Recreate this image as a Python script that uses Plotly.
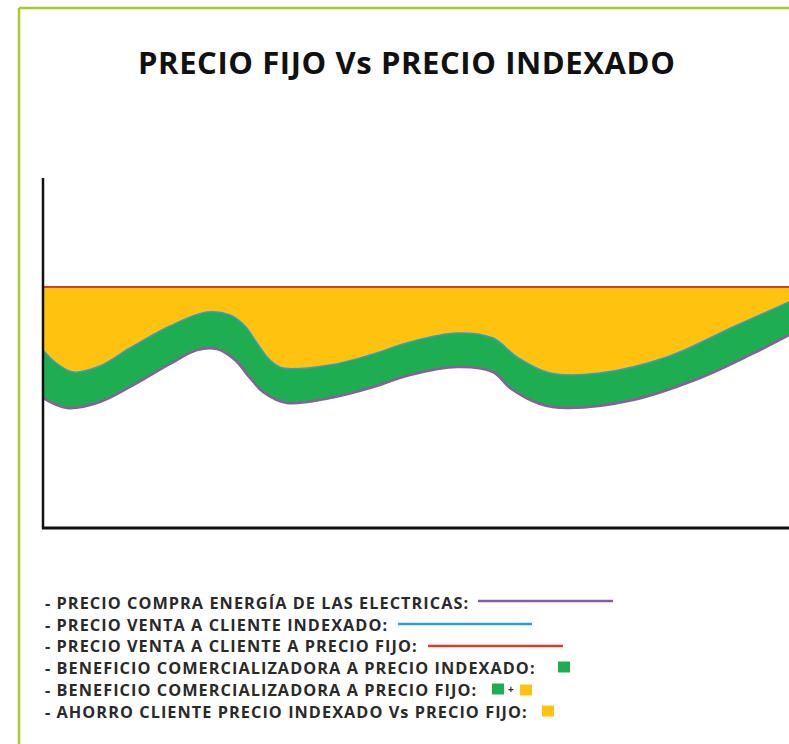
import plotly.graph_objects as go

# ---- data (time index, price level) ----
x_vals = [0, 12, 30, 57, 87, 127, 164, 187, 202, 214, 227, 240, 287, 327, 367, 414, 450, 474, 507, 557, 624, 690, 746]
x_low = [0, 24, 57, 87, 127, 154, 174, 192, 207, 220, 244, 287, 327, 367, 414, 450, 467, 497, 524, 590, 657, 707, 746]

precio_indexado = [178, 166, 156, 162, 180, 202, 216, 213, 202, 185, 168, 160, 163, 173, 186, 195, 190, 171, 155, 155, 171, 201, 226]
precio_compra = [130, 120, 126, 141, 164, 178, 179, 168, 150, 136, 125, 130, 140, 153, 161, 156, 140, 124, 120, 128, 150, 173, 193]
precio_fijo = 241

y_max = 350
x_max = 746

legend_labels = [
    "- PRECIO COMPRA ENERGÍA DE LAS ELECTRICAS:",
    "- PRECIO VENTA A CLIENTE INDEXADO:",
    "- PRECIO VENTA A CLIENTE A PRECIO FIJO:",
    "- BENEFICIO COMERCIALIZADORA A PRECIO INDEXADO:",
    "- BENEFICIO COMERCIALIZADORA A PRECIO FIJO:",
    "- AHORRO CLIENTE PRECIO INDEXADO Vs PRECIO FIJO:",
]
title_text = "PRECIO FIJO Vs PRECIO INDEXADO"

C_YELLOW = "#FFC30F"
C_GREEN = "#1FAD52"
C_PURPLE = "#8A5E9E"
C_BLUE = "#2F9FCB"
C_RED = "#D83C2C"
C_FRAME = "#A4CC2A"

fig = go.Figure()

fig.add_trace(go.Scatter(x=x_low, y=precio_compra, mode="lines",
                         line=dict(color=C_PURPLE, width=2.5, shape="spline", smoothing=1.0),
                         showlegend=False, hoverinfo="skip"))
fig.add_trace(go.Scatter(x=x_vals, y=precio_indexado, mode="lines",
                         line=dict(color=C_BLUE, width=1.5, shape="spline", smoothing=1.0),
                         fill="tonexty", fillcolor=C_GREEN, showlegend=False, hoverinfo="skip"))
fig.add_trace(go.Scatter(x=[0, x_max], y=[precio_fijo, precio_fijo], mode="lines",
                         line=dict(color=C_RED, width=2),
                         fill="tonexty", fillcolor=C_YELLOW, showlegend=False, hoverinfo="skip"))

W, H = 789, 744
L, R, T, B = 43, 0, 178, 744 - 528
pw, ph = W - L - R, H - T - B


def px(xp):
    return (xp - L) / pw


def py(yp):
    return (H - B - yp) / ph


FONT = "Open Sans"
ann = []
ann.append(dict(text='<b><span style="letter-spacing:0.6px">' + title_text + '</span></b>',
                x=px(406), y=py(62), xref="paper", yref="paper",
                showarrow=False, xanchor="center", yanchor="middle",
                font=dict(family=FONT, size=31, color="#111111")))

rows_y = [603, 624.7, 646.4, 668, 689.8, 711.5]
for lab, yy in zip(legend_labels, rows_y):
    ann.append(dict(text='<b><span style="letter-spacing:1.05px">' + lab + '</span></b>',
                    x=px(43), y=py(yy), xref="paper", yref="paper",
                    showarrow=False, xanchor="left", yanchor="middle",
                    font=dict(family=FONT, size=16.3, color="#2a2a2a")))

shapes = []
# frame
shapes.append(dict(type="line", xref="paper", yref="paper", x0=px(19), x1=px(800), y0=py(8), y1=py(8),
                   line=dict(color=C_FRAME, width=2.5)))
shapes.append(dict(type="line", xref="paper", yref="paper", x0=px(19), x1=px(19), y0=py(8), y1=py(760),
                   line=dict(color=C_FRAME, width=2.5)))
# axes
shapes.append(dict(type="line", xref="paper", yref="paper", x0=px(43), x1=px(43), y0=py(178), y1=py(529),
                   line=dict(color="#111111", width=2.5)))
shapes.append(dict(type="line", xref="paper", yref="paper", x0=px(42), x1=px(800), y0=py(528), y1=py(528),
                   line=dict(color="#111111", width=3)))
# legend samples
shapes.append(dict(type="line", xref="paper", yref="paper", x0=px(478), x1=px(613), y0=py(601), y1=py(601),
                   line=dict(color=C_PURPLE, width=2.5)))
shapes.append(dict(type="line", xref="paper", yref="paper", x0=px(398), x1=px(532), y0=py(624), y1=py(624),
                   line=dict(color=C_BLUE, width=2.5)))
shapes.append(dict(type="line", xref="paper", yref="paper", x0=px(428), x1=px(563), y0=py(646), y1=py(646),
                   line=dict(color=C_RED, width=2.5)))


def sq(x0, yc, color):
    return dict(type="rect", xref="paper", yref="paper", x0=px(x0), x1=px(x0 + 12),
                y0=py(yc - 5.5), y1=py(yc + 5.5), fillcolor=color, line=dict(width=0))


shapes.append(sq(558, 667, C_GREEN))
shapes.append(sq(492, 689, C_GREEN))
shapes.append(sq(520, 690, C_YELLOW))
shapes.append(sq(542, 711, C_YELLOW))
ann.append(dict(text="<b>+</b>", x=px(511), y=py(689), xref="paper", yref="paper", showarrow=False,
                xanchor="center", yanchor="middle",
                font=dict(family=FONT, size=10, color="#2a2a2a")))

fig.update_layout(
    width=W, height=H, margin=dict(l=L, r=R, t=T, b=B, pad=0),
    paper_bgcolor="white", plot_bgcolor="white",
    xaxis=dict(range=[0, x_max], visible=False, fixedrange=True),
    yaxis=dict(range=[0, y_max], visible=False, fixedrange=True),
    annotations=ann, shapes=shapes, showlegend=False,
)

fig.write_html("out.html", config={"displayModeBar": False},
               post_script="document.body.style.margin='0';document.documentElement.style.overflow='hidden';")
